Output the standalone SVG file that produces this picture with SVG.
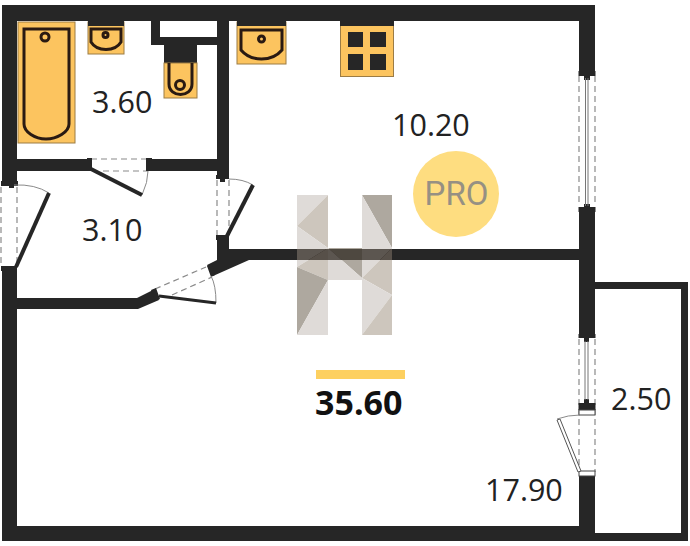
<svg xmlns="http://www.w3.org/2000/svg" width="690" height="546" viewBox="0 0 690 546">
<style>
.w{fill:#262626}
.f{fill:#fcc45f;stroke:#9c7c45;stroke-width:1}
.o{fill:none;stroke:#2a1a12;stroke-width:3}
.d{fill:none;stroke:#8a8a8a;stroke-width:1.2;stroke-dasharray:6 4}
.a{fill:none;stroke:#8a8a8a;stroke-width:1}
.l{fill:none;stroke:#262626;stroke-width:4}
.t{font-family:"Open Sans","Noto Sans",sans-serif;font-size:30.500px;fill:#222}
.hl{fill:#dfdbd8}
.hm{fill:#cdc6bd}
.hd{fill:#aea89f}
</style>
<rect width="690" height="546" fill="#fff"/>
<g id="walls">
<path class="w" d="M2 5H595V73H579V21H17V181H2Z"/>
<rect class="w" x="579" y="208" width="16" height="127"/>
<path class="w" d="M2 268H17V526H579V476H595V541H2Z"/>
<path class="w" d="M595 282H688V541H595V533H681V289H595Z"/>
<rect class="w" x="217" y="21" width="12" height="156"/>
<rect class="w" x="17" y="159" width="73" height="12"/>
<rect class="w" x="150" y="159" width="67" height="12"/>
<path class="w" d="M217 237H229V249H579V260H249L213 276L207 265L217 260Z"/>
<path class="w" d="M17 298H137L153 290L159 300L138 309H17Z"/>
<path class="w" d="M151 21H160V37H217V45H197V63H164V45H151Z"/>
</g>
<g id="bath"><rect class="f" x="18" y="22" width="57" height="121"/>
<path class="o" d="M24 29H69V124C69 132 57 139 46 139C35 139 24 132 24 124Z"/>
<circle class="o" cx="45" cy="37" r="4" stroke-width="1.6"/></g>
<g id="sink1"><rect class="f" x="88" y="22" width="36" height="32"/><rect class="w" x="88" y="21" width="36" height="5"/>
<path class="o" d="M91 29H121V42C115 52 97 52 91 42Z"/>
<circle class="o" cx="105.500" cy="35" r="2.500" stroke-width="1.600"/></g>
<g id="toilet"><rect class="f" x="164" y="63" width="33" height="35"/>
<path class="o" d="M169 63V84C169 98 192 98 192 84V63"/>
<circle class="o" cx="180" cy="85" r="4.500" stroke-width="1.600"/></g>
<g id="sink2"><rect class="f" x="237" y="22" width="49" height="42"/><rect class="w" x="237" y="21" width="49" height="5"/>
<path class="o" d="M241 30H282V50C272 62 251 62 241 50Z"/>
<circle class="o" cx="261.500" cy="39" r="3" stroke-width="1.600"/></g>
<g id="stove"><rect class="f" x="340.500" y="22" width="53" height="54.500"/><rect class="w" x="340" y="21" width="54" height="5"/>
<rect class="w" x="348" y="32" width="15" height="15"/><rect class="w" x="370" y="32" width="16" height="15"/>
<rect class="w" x="348" y="54" width="15" height="16"/><rect class="w" x="370" y="54" width="16" height="16"/></g>
<g id="door-bath">
<path class="d" d="M91 159H148M103 171H148"/>
<rect class="w" x="87" y="158" width="5" height="13"/><rect class="w" x="146" y="158" width="6" height="13"/>
<path class="a" d="M142 195Q148 182 148 171"/>
<path class="l" d="M91 169L142 195"/></g>
<g id="door-entry">
<path class="d" d="M1 187V265M17 187V265"/>
<rect class="w" x="1" y="181" width="17" height="5"/><rect class="w" x="9" y="185" width="5" height="3"/><rect class="w" x="1" y="266" width="16" height="5"/>
<path class="a" d="M14 185Q35 184 49 193"/>
<path class="l" d="M16 267L49 193"/></g>
<g id="door-inner">
<path class="d" d="M217 180V235M229 180V235"/>
<rect class="w" x="216" y="175" width="13" height="4"/><rect class="w" x="220" y="179" width="5" height="3"/><rect class="w" x="216" y="235" width="13" height="5"/>
<path class="a" d="M229 179Q243 179 253 185"/>
<path class="l" d="M227 236L253 185"/></g>
<g id="door-lower">
<path class="d" d="M155 289L206 267M172 295L212 277"/>
<path class="w" d="M207 266L212 264L215 275L211 277ZM151 290L156 288L160 299L155 301Z"/>
<path class="a" d="M216 303Q216 285 211 276"/>
<path d="M159 296L216 303" fill="none" stroke="#262626" stroke-width="3"/></g>
<g id="window-top">
<path class="d" d="M579 76V206M595 76V206"/>
<rect class="w" x="578.500" y="71" width="17" height="5"/><rect class="w" x="584" y="75" width="6" height="5"/>
<rect class="w" x="578.500" y="207" width="17" height="5"/><rect class="w" x="584" y="204" width="6" height="4"/>
<path d="M585.500 78V206M588 78V206" stroke="#777" stroke-width="1" fill="none"/></g>
<g id="window-balcony">
<path class="d" d="M579 339V472M595 339V472"/>
<rect class="w" x="578.500" y="334" width="17" height="4"/><rect class="w" x="584" y="337" width="5" height="5"/>
<rect class="w" x="578.500" y="403" width="17" height="7"/><rect class="w" x="584" y="399" width="5" height="5"/>
<path d="M585 341V400M588 341V400" stroke="#777" stroke-width="1" fill="none"/>
<rect x="579" y="410" width="16" height="5" fill="#fff" stroke="#444" stroke-width="1"/>
<rect x="579" y="471" width="16" height="5" fill="#fff" stroke="#444" stroke-width="1"/>
<path d="M557 420L578 472L581 471L560 419Z" fill="#fff" stroke="#555" stroke-width="1"/>
<path class="a" d="M557 419Q568 415 580 415" stroke="#555"/></g>
<g id="logo-pro"><circle cx="456" cy="194" r="43" fill="#fedd80"/>
<text x="456.500" y="205" text-anchor="middle" font-family="Roboto,sans-serif" font-size="33" fill="#969083">PRO</text></g>
<g id="logo-h">
<path class="hl" d="M297 195H328L297 226Z"/><path class="hm" d="M328 195V248L297 226Z"/>
<path class="hl" d="M297 226L328 248L297 267Z"/><path class="hm" d="M297 267L328 248V280Z"/>
<path class="hd" d="M297 267L328 280L297 335Z"/><path class="hl" d="M328 280V335H297Z"/>
<path class="hd" d="M328 248H362V278Z"/><path class="hl" d="M328 248L362 278V280H328Z"/>
<path class="hd" d="M362 195H392V248Z"/><path class="hl" d="M362 195L392 248L362 278Z"/>
<path class="hm" d="M392 248V295L362 278Z"/><path class="hl" d="M362 278L392 295L362 335Z"/>
<path class="hm" d="M392 295V335H362Z"/>
<rect x="297" y="249" width="95" height="11" fill="#2a221c" fill-opacity=".72"/></g>
<g id="labels">
<text class="t" x="92" y="113">3.60</text>
<text class="t" x="82" y="241">3.10</text>
<text class="t" x="392" y="136">10.20</text>
<text class="t" x="485" y="501">17.90</text>
<text class="t" x="611" y="410">2.50</text>
<rect x="316" y="370" width="89" height="9" fill="#fdd060"/>
<text x="315" y="415" font-family="'Open Sans',sans-serif" font-weight="700" font-size="34" fill="#111">35.60</text>
</g>
</svg>
